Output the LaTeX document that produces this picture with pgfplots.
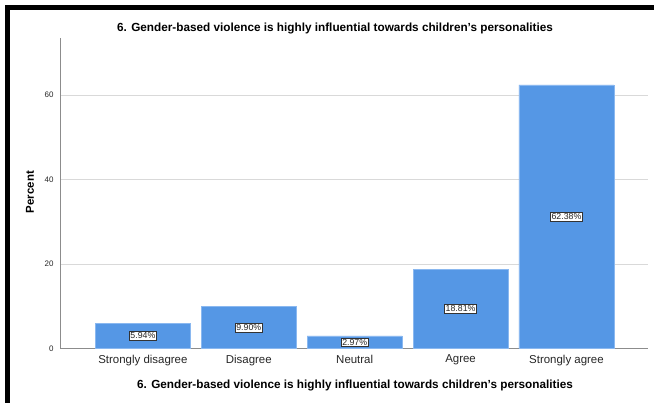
\documentclass[border=0pt]{standalone}
\usepackage{pgfplots}
\pgfplotsset{compat=1.18}
\usepackage{pgfplotstable}
\usepackage{fontspec}
\setmainfont{Liberation Sans}

\definecolor{barblue}{HTML}{5597E5}
\definecolor{baredge}{HTML}{8AB8F0}
\definecolor{gridgray}{HTML}{D9D9D9}
\definecolor{axisgray}{HTML}{8C8C8C}

% Response distribution (percent of respondents)
\pgfplotstableread{
pos value
0   5.94
1   9.90
2   2.97
3   18.81
4   62.38
}\responses

\begin{document}
\begin{tikzpicture}[x=1bp,y=1bp]
\useasboundingbox (0,0) rectangle (654,403);
% frame lines
\fill[black] (5,0) rectangle (10,398);
\fill[black] (5,393) rectangle (654,398);

\begin{axis}[
  at={(60bp,54.5bp)}, anchor=south west,
  scale only axis, width=588bp, height=310.5bp,
  xmin=-0.783, xmax=4.77, ymin=0, ymax=73.5,
  axis x line*=bottom, axis y line*=left,
  axis line style={axisgray, line width=0.8bp},
  major tick length=0pt,
  xtick={0,1,2,3,4},
  xticklabels={Strongly disagree, Disagree, Neutral, Agree, Strongly agree},
  ytick={0,20,40,60},
  ymajorgrids, grid style={gridgray, line width=0.9bp},
  xticklabel style={font=\fontsize{11.5}{13}\selectfont, text=black!85, yshift=-3bp},
  yticklabel style={font=\fontsize{8}{9}\selectfont, text=black!85, xshift=-3bp},
  /pgf/number format/assume math mode=true,
  ybar, bar width=95bp, bar shift=0pt,
  clip=false,
]
\addplot[fill=barblue, draw=baredge, line width=0.6bp] table[x=pos, y=value] {\responses};
% value labels centred in each bar
\addplot[draw=none, fill=none,
  nodes near coords={\pgfmathprintnumber[fixed,fixed zerofill,precision=2]{\pgfplotspointmeta}\%},
  every node near coord/.append style={anchor=center, font=\fontsize{8.8}{10}\selectfont,
     fill=white, draw=black!80, line width=0.6bp, inner sep=1.2bp, text=black!85},
  point meta=explicit]
  table[x=pos, y expr=\thisrow{value}/2, meta=value] {\responses};
\end{axis}

\node[font=\bfseries\fontsize{11.8}{13}\selectfont] at (335,375)
  {6. Gender-based violence is highly influential towards children’s personalities};
\node[font=\bfseries\fontsize{11.8}{13}\selectfont] at (355,18)
  {6. Gender-based violence is highly influential towards children’s personalities};
\node[font=\bfseries\fontsize{11.5}{13}\selectfont, rotate=90] at (30,211) {Percent};
\end{tikzpicture}
\end{document}
